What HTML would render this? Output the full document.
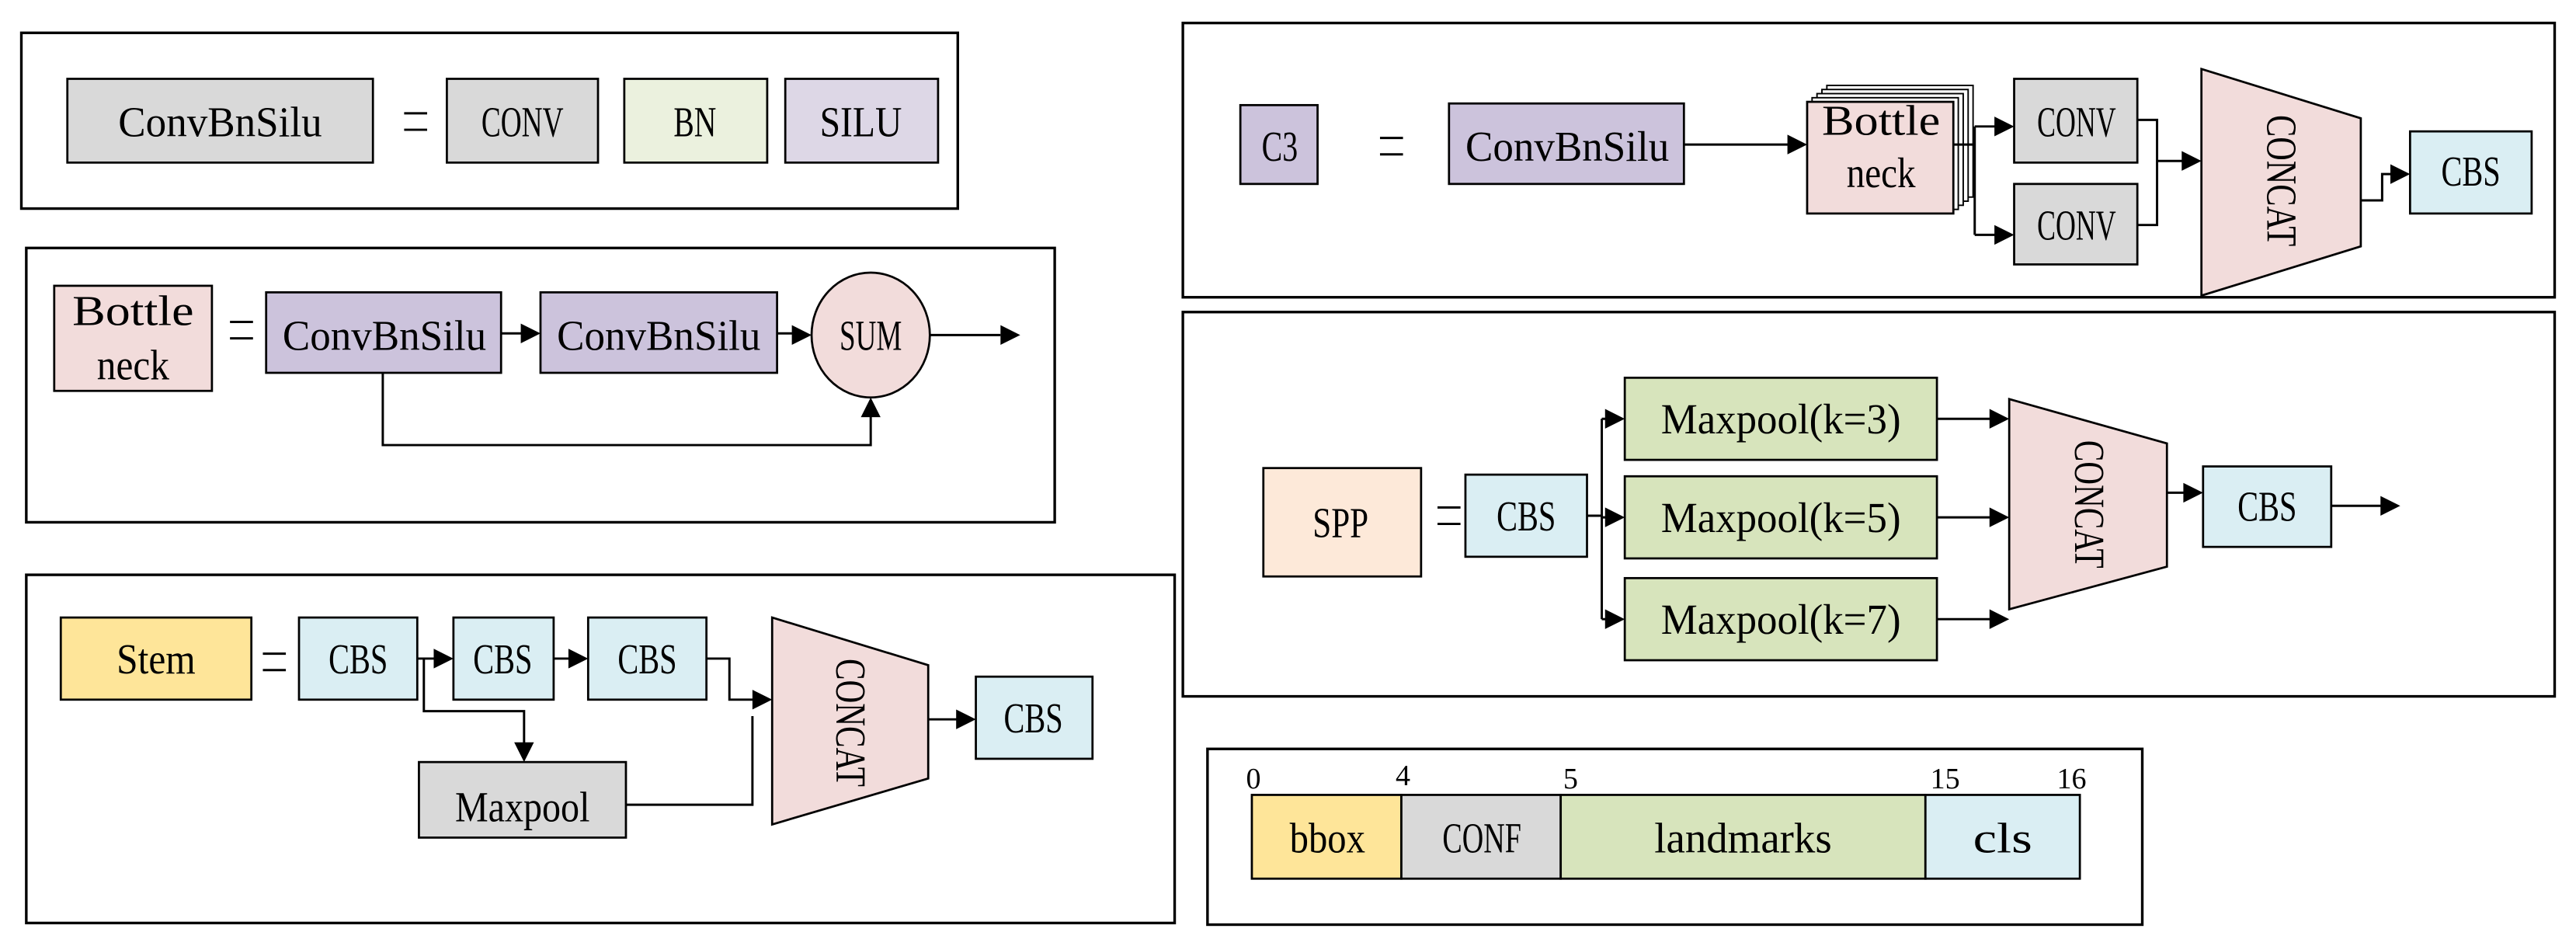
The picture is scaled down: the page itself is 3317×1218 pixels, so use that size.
<!DOCTYPE html>
<html><head><meta charset="utf-8"><style>html,body{margin:0;padding:0;background:#fff}svg{display:block}</style></head>
<body>
<svg width="3317" height="1218" viewBox="0 0 1568 576" preserveAspectRatio="none" xmlns="http://www.w3.org/2000/svg">
<g style="font-family:'Liberation Serif',serif" font-size="26" text-anchor="middle" fill="#000">
<g fill="none" stroke="#000" stroke-width="1.6">
<rect x="13" y="20" width="570" height="107"/>
<rect x="16" y="151" width="626" height="167"/>
<rect x="16" y="350" width="699" height="212"/>
<rect x="720" y="14" width="835" height="167"/>
<rect x="720" y="190" width="835" height="234"/>
<rect x="735" y="456" width="569" height="107"/>
</g>
<g stroke="#000" stroke-width="1.3">
<rect x="41" y="48" width="186" height="51" fill="#d9d9d9"/>
<rect x="272" y="48" width="92" height="51" fill="#d9d9d9"/>
<rect x="380" y="48" width="87" height="51" fill="#ebf1de"/>
<rect x="478" y="48" width="93" height="51" fill="#ddd7e6"/>
<rect x="33" y="174" width="96" height="64" fill="#f2dcdb"/>
<rect x="162" y="178" width="143" height="49" fill="#ccc3dc"/>
<rect x="329" y="178" width="144" height="49" fill="#ccc3dc"/>
<ellipse cx="530" cy="204" rx="36" ry="38" fill="#f2dcdb"/>
<rect x="37" y="376" width="116" height="50" fill="#fee599"/>
<rect x="182" y="376" width="72" height="50" fill="#daeef3"/>
<rect x="276" y="376" width="61" height="50" fill="#daeef3"/>
<rect x="358" y="376" width="72" height="50" fill="#daeef3"/>
<polygon points="470,376 565,405 565,474 470,502" fill="#f2dcdb"/>
<rect x="594" y="412" width="71" height="50" fill="#daeef3"/>
<rect x="255" y="464" width="126" height="46" fill="#d9d9d9"/>
<rect x="755" y="64" width="47" height="48" fill="#ccc3dc"/>
<rect x="882" y="63" width="143" height="49" fill="#ccc3dc"/>
</g>
<g stroke="#000" stroke-width="0.9" fill="#fff">
<rect x="1112" y="52" width="89" height="68"/>
<rect x="1109" y="54.5" width="89" height="68"/>
<rect x="1106" y="57" width="89" height="68"/>
<rect x="1103" y="59.5" width="89" height="68"/>
</g>
<g stroke="#000" stroke-width="1.3">
<rect x="1100" y="62" width="89" height="68" fill="#f2dcdb"/>
<rect x="1226" y="48" width="75" height="51" fill="#d9d9d9"/>
<rect x="1226" y="112" width="75" height="49" fill="#d9d9d9"/>
<polygon points="1340,42 1437,72 1437,150 1340,180" fill="#f2dcdb"/>
<rect x="1467" y="80" width="74" height="50" fill="#daeef3"/>
<rect x="769" y="285" width="96" height="66" fill="#fde9d9"/>
<rect x="892" y="289" width="74" height="50" fill="#daeef3"/>
<rect x="989" y="230" width="190" height="50" fill="#d7e4bc"/>
<rect x="989" y="290" width="190" height="50" fill="#d7e4bc"/>
<rect x="989" y="352" width="190" height="50" fill="#d7e4bc"/>
<polygon points="1223,243 1319,270 1319,345 1223,371" fill="#f2dcdb"/>
<rect x="1341" y="284" width="78" height="49" fill="#daeef3"/>
<rect x="762" y="484" width="91" height="51" fill="#fee599"/>
<rect x="853" y="484" width="97" height="51" fill="#d9d9d9"/>
<rect x="950" y="484" width="222" height="51" fill="#d7e4bc"/>
<rect x="1172" y="484" width="94" height="51" fill="#daeef3"/>
</g>
<g fill="none" stroke="#000" stroke-width="1.4">
<path d="M246 69h14M246 79h14M140 196h14M140 206h14M160 398h14M160 408h14M840 84h14M840 94h14M875 309h14M875 319h14"/>
<path d="M305 203h14M473 203h10M566 204h43M233 227v44h297v-19"/>
<path d="M254 401h12M337 401h11M430 401h14v25h16M258 401v32h61v21M381 490h77v-54M565 438h19"/>
<path d="M1025 88h65M1189 88h13M1202 77v66M1202 77h14M1202 143h14M1301 73h12v64h-12M1313 98h17M1437 122h13v-16h7"/>
<path d="M966 314h9M975 255v122M975 255h4M975 315h4M975 377h4M1179 255h34M1179 315h34M1179 377h34M1319 300h12M1419 308h31"/>
</g>
<g fill="#000">
<polygon points="329,203 317,197 317,209"/><polygon points="494,204 482,198 482,210"/><polygon points="621,204 609,198 609,210"/><polygon points="530,242 524,254 536,254"/>
<polygon points="276,401 264,395 264,407"/><polygon points="358,401 346,395 346,407"/><polygon points="470,426 458,420 458,432"/><polygon points="319,464 313,452 325,452"/><polygon points="594,438 582,432 582,444"/>
<polygon points="1100,88 1088,82 1088,94"/><polygon points="1226,77 1214,71 1214,83"/><polygon points="1226,143 1214,137 1214,149"/><polygon points="1340,98 1328,92 1328,104"/><polygon points="1467,106 1455,100 1455,112"/>
<polygon points="989,255 977,249 977,261"/><polygon points="989,315 977,309 977,321"/><polygon points="989,377 977,371 977,383"/>
<polygon points="1223,255 1211,249 1211,261"/><polygon points="1223,315 1211,309 1211,321"/><polygon points="1223,377 1211,371 1211,383"/>
<polygon points="1341,300 1329,294 1329,306"/><polygon points="1461,308 1449,302 1449,314"/>
</g>
<text x="134" y="83" textLength="124" lengthAdjust="spacingAndGlyphs">ConvBnSilu</text>
<text x="318" y="83" textLength="50" lengthAdjust="spacingAndGlyphs">CONV</text>
<text x="423" y="83" textLength="26" lengthAdjust="spacingAndGlyphs">BN</text>
<text x="524" y="83" textLength="50" lengthAdjust="spacingAndGlyphs">SILU</text>
<text x="81" y="198" textLength="74" lengthAdjust="spacingAndGlyphs">Bottle</text>
<text x="81" y="231" textLength="44" lengthAdjust="spacingAndGlyphs">neck</text>
<text x="234" y="213" textLength="124" lengthAdjust="spacingAndGlyphs">ConvBnSilu</text>
<text x="401" y="213" textLength="124" lengthAdjust="spacingAndGlyphs">ConvBnSilu</text>
<text x="530" y="213" textLength="38" lengthAdjust="spacingAndGlyphs">SUM</text>
<text x="95" y="410" textLength="48" lengthAdjust="spacingAndGlyphs">Stem</text>
<text x="218" y="410" textLength="36" lengthAdjust="spacingAndGlyphs">CBS</text>
<text x="306" y="410" textLength="36" lengthAdjust="spacingAndGlyphs">CBS</text>
<text x="394" y="410" textLength="36" lengthAdjust="spacingAndGlyphs">CBS</text>
<text x="318" y="500" textLength="82" lengthAdjust="spacingAndGlyphs">Maxpool</text>
<text x="629" y="446" textLength="36" lengthAdjust="spacingAndGlyphs">CBS</text>
<text transform="translate(509,440) rotate(90)" x="0" y="0" textLength="78" lengthAdjust="spacingAndGlyphs">CONCAT</text>
<text x="779" y="98" textLength="22" lengthAdjust="spacingAndGlyphs">C3</text>
<text x="954" y="98" textLength="124" lengthAdjust="spacingAndGlyphs">ConvBnSilu</text>
<text x="1145" y="82" textLength="72" lengthAdjust="spacingAndGlyphs">Bottle</text>
<text x="1145" y="114" textLength="42" lengthAdjust="spacingAndGlyphs">neck</text>
<text x="1264" y="83" textLength="48" lengthAdjust="spacingAndGlyphs">CONV</text>
<text x="1264" y="146" textLength="48" lengthAdjust="spacingAndGlyphs">CONV</text>
<text transform="translate(1380,110) rotate(90)" x="0" y="0" textLength="80" lengthAdjust="spacingAndGlyphs">CONCAT</text>
<text x="1504" y="113" textLength="36" lengthAdjust="spacingAndGlyphs">CBS</text>
<text x="816" y="327" textLength="34" lengthAdjust="spacingAndGlyphs">SPP</text>
<text x="929" y="323" textLength="36" lengthAdjust="spacingAndGlyphs">CBS</text>
<text x="1084" y="264" textLength="146" lengthAdjust="spacingAndGlyphs">Maxpool(k=3)</text>
<text x="1084" y="324" textLength="146" lengthAdjust="spacingAndGlyphs">Maxpool(k=5)</text>
<text x="1084" y="386" textLength="146" lengthAdjust="spacingAndGlyphs">Maxpool(k=7)</text>
<text transform="translate(1263,307) rotate(90)" x="0" y="0" textLength="78" lengthAdjust="spacingAndGlyphs">CONCAT</text>
<text x="1380" y="317" textLength="36" lengthAdjust="spacingAndGlyphs">CBS</text>
<text x="808" y="519" textLength="46" lengthAdjust="spacingAndGlyphs">bbox</text>
<text x="902" y="519" textLength="48" lengthAdjust="spacingAndGlyphs">CONF</text>
<text x="1061" y="519" textLength="108" lengthAdjust="spacingAndGlyphs">landmarks</text>
<text x="1219" y="519" textLength="36" lengthAdjust="spacingAndGlyphs">cls</text>
<g font-size="18">
<text x="763" y="480">0</text><text x="854" y="478">4</text><text x="956" y="480">5</text><text x="1184" y="480">15</text><text x="1261" y="480">16</text>
</g>
</g>
</svg>
</body></html>
